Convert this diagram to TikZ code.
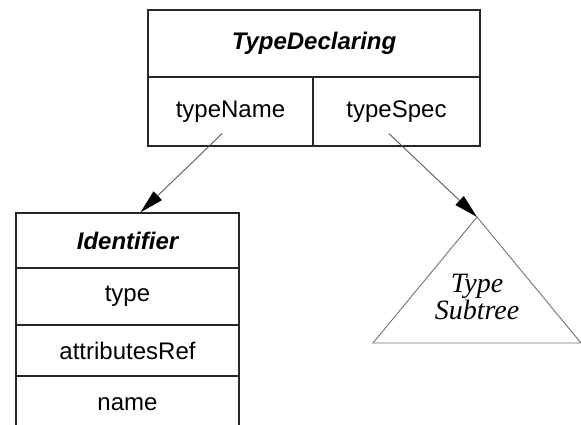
\documentclass[tikz,border=0pt]{standalone}
\usepackage{fontspec}
\setmainfont{Liberation Sans}
\newfontfamily\treefont{Liberation Serif}
\usetikzlibrary{arrows.meta}
\begin{document}
\begin{tikzpicture}[x=1pt,y=-1pt,
    cell/.style={draw=black!85,line width=1.3pt,inner sep=0pt,font=\fontsize{24}{28}\selectfont},
    title/.style={cell,font=\fontsize{24}{28}\selectfont\bfseries\itshape},
    link/.style={draw=black!65,line width=0.9pt,-{Triangle[length=24pt,width=12pt,black]}},
    branch/.style={draw=black!55,line width=0.9pt,line join=miter}]
    \path[use as bounding box,clip] (0,0) rectangle (581,424);
    %% declaration record
    \node[title,minimum width=332pt,minimum height=67pt] (decl) at (314,43.5) {TypeDeclaring};
    \node[cell,minimum width=165pt,minimum height=69pt] (tname) at (230.5,111.5) {typeName};
    \node[cell,minimum width=167pt,minimum height=69pt] (tspec) at (396.5,111.5) {typeSpec};
    %% identifier record
    \node[title,minimum width=223pt,minimum height=55pt] (ident) at (127.5,240.5) {Identifier};
    \node[cell,minimum width=223pt,minimum height=57pt] (itype) at (127.5,296.5) {type};
    \node[cell,minimum width=223pt,minimum height=51pt] (iattr) at (127.5,350.5) {attributesRef};
    \node[cell,minimum width=223pt,minimum height=56pt] (iname) at (127.5,404) {name};
    %% type subtree
    \coordinate (apex) at (477,217);
    \draw[branch] (apex) -- (373,343) -- (581,343) -- cycle;
    \node[align=center,font=\treefont\itshape\fontsize{28}{24}\selectfont] (sub) at (477,297) {Type\\Subtree};
    %% references
    \draw[link] ([shift={(-8.5,-13)}]tname.south) -- ([xshift=13pt]ident.north);
    \draw[link] ([shift={(-7.5,-13)}]tspec.south) -- (apex);
\end{tikzpicture}
\end{document}
